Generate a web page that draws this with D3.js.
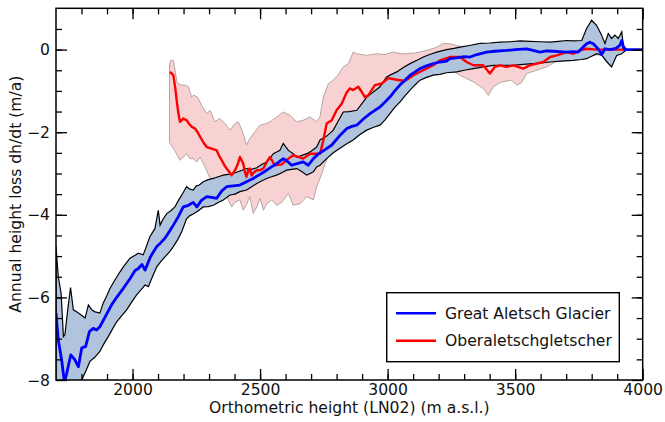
<!DOCTYPE html>
<html>
<head>
<meta charset="utf-8">
<script src="https://cdn.jsdelivr.net/npm/d3@7"></script>
<style>
  body { margin: 0; background: #fff; }
  svg text { font-family: "DejaVu Sans", sans-serif; fill: #111; }
</style>
</head>
<body>
<div id="chartDiv"></div>
<script>
// ---- data: [elevation (m), dh/dt (m/a)] ----
var greatMean = [[1700,-6.38],[1709,-7.03],[1722,-7.51],[1733,-8.05],[1742,-7.84],[1758,-7.39],[1774,-7.51],[1788,-7.68],
  [1801,-7.22],[1816,-7.19],[1831,-6.83],[1846,-6.75],[1859,-6.79],[1872,-6.71],[1899,-6.40],[1918,-6.18],[1940,-5.98],
  [1964,-5.78],[1990,-5.55],[2010,-5.35],[2023,-5.30],[2037,-5.20],[2049,-5.34],[2070,-5.02],[2095,-4.77],[2110,-4.68],
  [2127,-4.57],[2145,-4.40],[2160,-4.25],[2179,-4.05],[2199,-3.81],[2219,-3.77],[2238,-3.70],[2252,-3.81],[2270,-3.65],
  [2291,-3.56],[2310,-3.58],[2330,-3.60],[2350,-3.42],[2369,-3.32],[2395,-3.30],[2421,-3.28],[2447,-3.20],[2473,-3.12],
  [2500,-3.02],[2526,-2.92],[2545,-2.84],[2565,-2.76],[2591,-2.64],[2610,-2.72],[2624,-2.80],[2645,-2.76],[2669,-2.72],
  [2689,-2.80],[2709,-2.64],[2728,-2.53],[2755,-2.42],[2781,-2.31],[2810,-2.10],[2840,-1.91],[2860,-1.86],[2879,-1.83],
  [2905,-1.68],[2931,-1.55],[2950,-1.47],[2970,-1.39],[2990,-1.27],[3009,-1.15],[3028,-1.00],[3048,-0.86],[3068,-0.74],
  [3088,-0.62],[3108,-0.54],[3127,-0.46],[3150,-0.40],[3179,-0.34],[3205,-0.30],[3231,-0.28],[3244,-0.22],[3270,-0.20],
  [3300,-0.17],[3323,-0.18],[3350,-0.12],[3388,-0.06],[3420,-0.04],[3467,-0.02],[3500,0.00],[3545,0.02],[3570,-0.02],
  [3597,-0.06],[3623,-0.03],[3649,-0.04],[3675,-0.05],[3702,-0.06],[3728,-0.05],[3747,-0.06],[3767,0.06],[3780,0.14],
  [3793,0.18],[3806,0.14],[3819,0.06],[3830,-0.02],[3839,-0.12],[3845,-0.06],[3852,0.02],[3872,0.00],[3895,0.03],
  [3910,0.10],[3918,0.22],[3925,0.05],[3930,0.00],[3950,0.00],[4000,0.00]];

var greatUpper = [[1700,-4.77],[1709,-5.50],[1720,-5.90],[1729,-6.95],[1735,-6.90],[1746,-6.30],[1757,-5.76],[1768,-6.30],
  [1781,-6.35],[1800,-6.43],[1814,-6.50],[1827,-6.18],[1840,-6.30],[1853,-6.35],[1872,-6.38],[1885,-6.14],[1900,-5.95],
  [1912,-5.78],[1931,-5.58],[1951,-5.38],[1964,-5.26],[1990,-5.05],[2010,-4.98],[2023,-4.93],[2042,-4.97],[2068,-4.53],
  [2088,-4.33],[2101,-3.89],[2108,-4.25],[2120,-4.10],[2134,-3.97],[2150,-3.90],[2166,-3.81],[2180,-3.65],[2193,-3.52],
  [2212,-3.32],[2225,-3.38],[2238,-3.40],[2250,-3.30],[2262,-3.28],[2277,-3.20],[2297,-3.15],[2317,-3.12],[2336,-3.08],
  [2356,-3.04],[2375,-3.02],[2395,-3.00],[2421,-2.94],[2447,-2.88],[2467,-2.90],[2487,-2.86],[2506,-2.78],[2526,-2.72],
  [2540,-2.62],[2552,-2.52],[2565,-2.48],[2578,-2.44],[2591,-2.27],[2600,-2.35],[2611,-2.44],[2630,-2.52],[2644,-2.60],
  [2657,-2.58],[2670,-2.55],[2683,-2.52],[2700,-2.46],[2722,-2.36],[2735,-2.19],[2760,-2.10],[2787,-1.95],[2800,-1.80],
  [2826,-1.51],[2850,-1.50],[2879,-1.47],[2900,-1.30],[2918,-1.15],[2945,-1.02],[2970,-0.90],[2996,-0.66],[3015,-0.60],
  [3036,-0.54],[3060,-0.44],[3088,-0.34],[3115,-0.26],[3140,-0.18],[3165,-0.12],[3192,-0.06],[3231,0.00],[3260,0.03],
  [3284,0.06],[3320,0.10],[3362,0.15],[3400,0.16],[3441,0.18],[3480,0.19],[3520,0.21],[3558,0.20],[3600,0.19],
  [3637,0.18],[3670,0.20],[3702,0.22],[3730,0.21],[3761,0.22],[3780,0.51],[3800,0.71],[3819,0.59],[3839,0.35],
  [3852,0.15],[3865,0.39],[3878,0.27],[3891,0.35],[3904,0.27],[3918,0.43],[3924,0.10],[3937,0.00],[4000,0.00]];

var greatLower = [[1700,-9.5],[1740,-9.5],[1780,-8.6],[1801,-8.00],[1817,-7.78],[1833,-7.55],[1852,-7.45],[1872,-7.31],
  [1888,-7.12],[1905,-6.95],[1920,-6.78],[1938,-6.59],[1957,-6.45],[1977,-6.30],[1996,-6.12],[2016,-5.94],[2033,-5.82],
  [2049,-5.70],[2062,-5.74],[2078,-5.50],[2095,-5.26],[2110,-5.14],[2127,-5.02],[2145,-4.90],[2160,-4.77],[2177,-4.60],
  [2193,-4.41],[2212,-4.09],[2225,-4.02],[2238,-3.98],[2258,-3.90],[2277,-3.81],[2297,-3.80],[2317,-3.77],[2336,-3.70],
  [2356,-3.64],[2382,-3.52],[2402,-3.50],[2421,-3.44],[2447,-3.40],[2467,-3.32],[2487,-3.24],[2506,-3.18],[2526,-3.12],
  [2545,-3.08],[2565,-3.04],[2585,-2.98],[2604,-2.92],[2624,-2.90],[2644,-2.88],[2663,-2.95],[2683,-3.04],[2696,-3.00],
  [2709,-2.96],[2722,-2.84],[2735,-2.80],[2761,-2.64],[2787,-2.50],[2813,-2.39],[2840,-2.28],[2865,-2.19],[2890,-2.06],
  [2918,-1.95],[2945,-1.88],[2970,-1.83],[2990,-1.70],[3009,-1.55],[3028,-1.40],[3048,-1.27],[3068,-1.12],[3088,-0.98],
  [3108,-0.85],[3127,-0.74],[3150,-0.68],[3179,-0.62],[3205,-0.60],[3231,-0.56],[3271,-0.54],[3300,-0.50],[3336,-0.46],
  [3375,-0.42],[3414,-0.38],[3450,-0.38],[3493,-0.38],[3530,-0.36],[3571,-0.34],[3605,-0.32],[3637,-0.30],[3680,-0.28],
  [3728,-0.26],[3760,-0.24],[3780,-0.22],[3800,-0.16],[3819,-0.10],[3840,-0.14],[3860,-0.30],[3878,-0.42],[3890,-0.25],
  [3898,-0.14],[3918,-0.10],[3937,0.00],[4000,0.00]];

var oberMean = [[2147,-0.54],[2160,-0.62],[2168,-0.95],[2173,-1.23],[2180,-1.55],[2186,-1.75],[2199,-1.67],[2212,-1.71],
  [2222,-1.80],[2232,-1.87],[2245,-1.91],[2255,-2.00],[2265,-2.11],[2278,-2.25],[2291,-2.36],[2310,-2.40],[2330,-2.44],
  [2340,-2.58],[2350,-2.68],[2360,-2.80],[2369,-2.88],[2389,-3.04],[2402,-2.92],[2414,-2.75],[2421,-2.60],[2434,-2.76],
  [2440,-2.95],[2447,-3.08],[2455,-2.90],[2460,-2.88],[2467,-3.05],[2475,-2.98],[2487,-2.92],[2500,-2.92],[2513,-2.88],
  [2526,-2.72],[2539,-2.60],[2550,-2.72],[2558,-2.80],[2585,-2.78],[2611,-2.64],[2630,-2.56],[2650,-2.60],[2669,-2.64],
  [2696,-2.52],[2735,-2.52],[2748,-2.20],[2761,-1.79],[2781,-1.71],[2800,-1.47],[2820,-1.31],[2840,-1.03],[2852,-0.94],
  [2865,-0.98],[2885,-0.90],[2898,-1.02],[2911,-1.15],[2924,-1.11],[2950,-0.86],[2977,-0.82],[3003,-0.69],[3036,-0.73],
  [3068,-0.76],[3101,-0.62],[3140,-0.50],[3179,-0.38],[3205,-0.26],[3244,-0.18],[3284,-0.18],[3310,-0.30],[3336,-0.38],
  [3375,-0.38],[3401,-0.58],[3420,-0.42],[3441,-0.38],[3467,-0.42],[3493,-0.38],[3532,-0.46],[3558,-0.38],[3585,-0.34],
  [3610,-0.30],[3637,-0.18],[3663,-0.14],[3702,-0.06],[3728,-0.10],[3754,-0.02],[3780,0.02],[3820,0.00],[3884,0.00],
  [3930,0.00]];

var oberUpper = [[2145,-0.35],[2150,-0.26],[2160,-0.26],[2168,-0.55],[2175,-0.80],[2190,-0.86],[2206,-0.86],[2219,-0.90],
  [2232,-1.15],[2240,-1.10],[2255,-1.15],[2271,-1.35],[2291,-1.55],[2304,-1.47],[2323,-1.75],[2343,-1.67],[2362,-1.79],
  [2382,-1.95],[2402,-1.79],[2415,-1.75],[2434,-2.03],[2447,-2.31],[2460,-2.15],[2480,-1.99],[2500,-1.83],[2520,-1.80],
  [2539,-1.75],[2565,-1.63],[2591,-1.51],[2617,-1.59],[2644,-1.75],[2669,-1.71],[2696,-1.63],[2722,-1.75],[2735,-1.63],
  [2748,-1.15],[2768,-0.82],[2787,-0.74],[2805,-0.62],[2826,-0.42],[2846,-0.34],[2865,-0.06],[2879,-0.10],[2918,-0.14],
  [2957,-0.10],[2990,-0.12],[3022,-0.06],[3050,-0.10],[3075,-0.10],[3110,-0.08],[3153,-0.02],[3190,0.05],[3218,0.15],
  [3244,0.14],[3271,0.10],[3300,0.06],[3400,0.05],[3500,0.06],[3600,0.08],[3700,0.06],[3800,0.05],[3900,0.04],
  [3930,0.02]];

var oberLower = [[2145,-2.25],[2165,-2.44],[2186,-2.68],[2206,-2.56],[2212,-2.52],[2225,-2.64],[2238,-2.64],[2252,-2.72],
  [2265,-2.60],[2284,-2.84],[2304,-3.12],[2330,-3.10],[2350,-3.16],[2369,-3.56],[2389,-3.81],[2402,-3.69],[2421,-3.64],
  [2434,-3.89],[2447,-3.75],[2460,-3.56],[2473,-3.97],[2487,-3.81],[2500,-3.60],[2513,-3.89],[2526,-3.73],[2546,-3.64],
  [2565,-3.77],[2585,-3.70],[2611,-3.48],[2630,-3.77],[2657,-3.73],[2683,-3.56],[2709,-3.64],[2722,-3.32],[2742,-3.00],
  [2755,-2.76],[2780,-2.40],[2810,-2.20],[2850,-2.00],[2900,-1.80],[2950,-1.60],[3000,-1.40],[3050,-1.15],[3100,-0.85],
  [3150,-0.65],[3200,-0.55],[3250,-0.50],[3284,-0.62],[3336,-0.78],[3375,-0.94],[3395,-1.11],[3414,-0.90],[3447,-0.78],
  [3486,-0.74],[3506,-0.86],[3525,-0.80],[3545,-0.58],[3584,-0.50],[3623,-0.42],[3656,-0.30],[3700,-0.20],[3800,-0.15],
  [3900,-0.05],[3930,0.00]];

var seriesNames = ["Great Aletsch Glacier", "Oberaletschgletscher"];
var xMajorTicks = [2000, 2500, 3000, 3500, 4000];
var yMajorTicks = [0, -2, -4, -6, -8];
var xTitle = "Orthometric height (LN02) (m a.s.l.)";
var yTitle = "Annual height loss dh/dt (m/a)";

// ---- layout ----
var W = 665, H = 422;
var plotL = 56, plotR = 642.7, plotT = 8.3, plotB = 380;
var fontSize = "15.6px";

var svg = d3.select("#chartDiv").append("svg")
    .attr("width", W)
    .attr("height", H);

var x = d3.scaleLinear().domain([1700, 4000]).range([plotL, plotR]);
var y = d3.scaleLinear().domain([-8, 1]).range([plotB, plotT]);

svg.append("clipPath").attr("id", "plotClip")
  .append("rect")
    .attr("x", plotL).attr("y", plotT)
    .attr("width", plotR - plotL).attr("height", plotB - plotT);

var lineGen = d3.line()
    .x(function(d){ return x(d[0]); })
    .y(function(d){ return y(d[1]); });

// closed band polygon: upper curve then lower curve backwards
function bandPath(upper, lower){
  return lineGen(upper.concat(lower.slice().reverse())) + "Z";
}

var plot = svg.append("g").attr("clip-path", "url(#plotClip)");

// Oberaletsch band (behind)
plot.append("path")
    .attr("d", bandPath(oberUpper, oberLower))
    .style("fill", "#f8d2d2")
    .style("stroke", "#b4a4a4")
    .style("stroke-width", 1);

// Great Aletsch band
plot.append("path")
    .attr("d", bandPath(greatUpper, greatLower))
    .style("fill", "#b0c4de")
    .style("stroke", "#000")
    .style("stroke-width", 1.2);

plot.append("path")
    .attr("d", lineGen(oberMean))
    .style("fill", "none")
    .style("stroke", "#ff0000")
    .style("stroke-width", 2.4)
    .style("stroke-linejoin", "round");

plot.append("path")
    .attr("d", lineGen(greatMean))
    .style("fill", "none")
    .style("stroke", "#0000ff")
    .style("stroke-width", 2.8)
    .style("stroke-linejoin", "round");

// ---- axes (ticks inside the frame on all four sides) ----
var xMinor = d3.range(1800, 4000, 100);
var yMinor = d3.range(-7.5, 1, 0.5);

function styleAxis(g){
  g.select(".domain").remove();
  g.selectAll("line").style("stroke", "#000").style("stroke-width", 1.3);
  g.selectAll("text").style("font-size", fontSize).style("fill", "#111");
}

svg.append("g").attr("transform", "translate(0," + plotB + ")")
    .call(d3.axisBottom(x).tickValues(xMinor).tickSize(-6).tickFormat(""))
    .call(styleAxis);
svg.append("g").attr("transform", "translate(0," + plotB + ")")
    .call(d3.axisBottom(x).tickValues(xMajorTicks).tickSize(-11).tickPadding(4).tickFormat(d3.format("d")))
    .call(styleAxis);
svg.append("g").attr("transform", "translate(0," + plotT + ")")
    .call(d3.axisTop(x).tickValues(xMinor).tickSize(-6).tickFormat(""))
    .call(styleAxis);
svg.append("g").attr("transform", "translate(0," + plotT + ")")
    .call(d3.axisTop(x).tickValues(xMajorTicks).tickSize(-11).tickFormat(""))
    .call(styleAxis);

svg.append("g").attr("transform", "translate(" + plotL + ",0)")
    .call(d3.axisLeft(y).tickValues(yMinor).tickSize(-6).tickFormat(""))
    .call(styleAxis);
svg.append("g").attr("transform", "translate(" + plotL + ",0)")
    .call(d3.axisLeft(y).tickValues(yMajorTicks).tickSize(-11).tickPadding(6).tickFormat(d3.format("d")))
    .call(styleAxis);
svg.append("g").attr("transform", "translate(" + plotR + ",0)")
    .call(d3.axisRight(y).tickValues(yMinor).tickSize(-6).tickFormat(""))
    .call(styleAxis);
svg.append("g").attr("transform", "translate(" + plotR + ",0)")
    .call(d3.axisRight(y).tickValues(yMajorTicks).tickSize(-11).tickFormat(""))
    .call(styleAxis);

// frame
svg.append("rect")
    .attr("x", plotL).attr("y", plotT)
    .attr("width", plotR - plotL).attr("height", plotB - plotT)
    .style("fill", "none")
    .style("stroke", "#000")
    .style("stroke-width", 1.5);

// axis titles
svg.append("text")
    .attr("x", (plotL + plotR) / 2)
    .attr("y", 413)
    .attr("text-anchor", "middle")
    .style("font-size", fontSize)
    .text(xTitle);

svg.append("text")
    .attr("transform", "translate(21," + ((plotT + plotB) / 2) + ") rotate(-90)")
    .attr("text-anchor", "middle")
    .style("font-size", fontSize)
    .text(yTitle);

// ---- legend ----
var legend = svg.append("g");
legend.append("rect")
    .attr("x", 386.7).attr("y", 292.7)
    .attr("width", 232.6).attr("height", 69)
    .style("fill", "#fff")
    .style("stroke", "#000")
    .style("stroke-width", 1.4);

var legendColors = ["#0000ff", "#ff0000"];
seriesNames.forEach(function(name, i){
  var ly = 313.3 + i * 27.4;
  legend.append("line")
      .attr("x1", 396).attr("x2", 436)
      .attr("y1", ly).attr("y2", ly)
      .style("stroke", legendColors[i])
      .style("stroke-width", 2.6);
  legend.append("text")
      .attr("x", 445).attr("y", ly)
      .attr("dy", "0.36em")
      .style("font-size", fontSize)
      .text(name);
});
</script>
</body>
</html>
